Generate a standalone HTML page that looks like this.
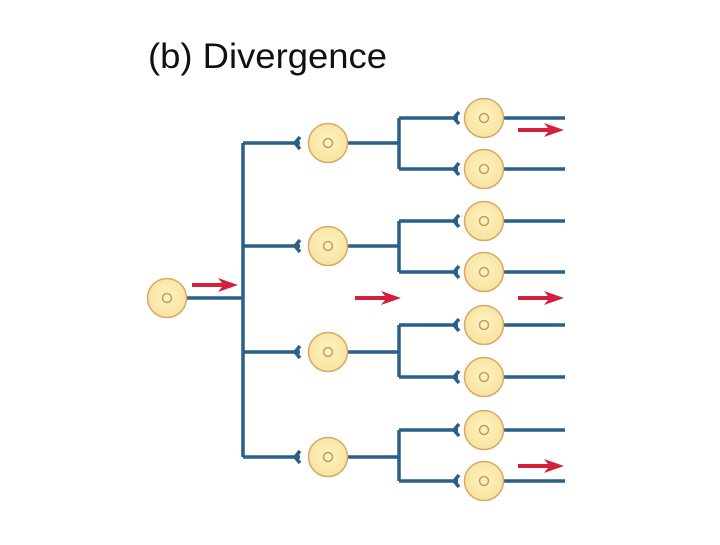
<!DOCTYPE html>
<html><head><style>body{margin:0;background:#fff}</style></head><body>
<svg width="720" height="540" xmlns="http://www.w3.org/2000/svg">
<defs>
<radialGradient id="g" cx="50%" cy="45%" r="55%"><stop offset="0" stop-color="#fdf3c0"/><stop offset="1" stop-color="#f8e3a0"/></radialGradient>
<g id="cell"><circle r="19.5" fill="url(#g)" stroke="#d9a868" stroke-width="1.5"/><circle r="4.5" fill="none" stroke="#c89a60" stroke-width="1.5"/></g>
<g id="ra"><path d="M0,-2 L30,-2 L26,-7 L46,0 L26,7 L30,2 L0,2 Z" fill="#d41f3c"/></g>
</defs>
<text x="148" y="68" font-family="Liberation Sans, sans-serif" font-size="35" textLength="239" lengthAdjust="spacingAndGlyphs" fill="#111">(b) Divergence</text>
<g stroke="#2a5f8a" stroke-width="3.5" fill="none">
<path d="M187,298 H243 M243,143 V457"/>
<path d="M243,143 H300 M243,246 H300 M243,352 H300 M243,457 H300"/>
<path d="M300,137 L295,143 L300,149 M300,240 L295,246 L300,252 M300,346 L295,352 L300,358 M300,451 L295,457 L300,463"/>
<path d="M347,143 H399 M347,246 H399 M347,352 H399 M347,457 H399"/>
<path d="M399,118 V169 M399,221 V272 M399,325 V377 M399,430 V481"/>
<path d="M399,118 H458 M399,169 H458 M399,221 H458 M399,272 H458 M399,325 H458 M399,377 H458 M399,430 H458 M399,481 H458"/>
<path d="M459,112 L454,118 L459,124 M459,163 L454,169 L459,175 M459,215 L454,221 L459,227 M459,266 L454,272 L459,278 M459,319 L454,325 L459,331 M459,371 L454,377 L459,383 M459,424 L454,430 L459,436 M459,475 L454,481 L459,487"/>
<path d="M503,118 H565 M503,169 H565 M503,221 H565 M503,272 H565 M503,325 H565 M503,377 H565 M503,430 H565 M503,481 H565"/>
</g>
<use href="#cell" x="167" y="298"/>
<use href="#cell" x="328" y="143"/><use href="#cell" x="328" y="246"/><use href="#cell" x="328" y="352"/><use href="#cell" x="328" y="457"/>
<use href="#cell" x="484" y="118"/><use href="#cell" x="484" y="169"/><use href="#cell" x="484" y="221"/><use href="#cell" x="484" y="272"/>
<use href="#cell" x="484" y="325"/><use href="#cell" x="484" y="377"/><use href="#cell" x="484" y="430"/><use href="#cell" x="484" y="481"/>
<use href="#ra" x="192" y="285"/><use href="#ra" x="355" y="298"/>
<use href="#ra" x="518" y="130"/><use href="#ra" x="518" y="298"/><use href="#ra" x="518" y="466"/>
</svg>
</body></html>
